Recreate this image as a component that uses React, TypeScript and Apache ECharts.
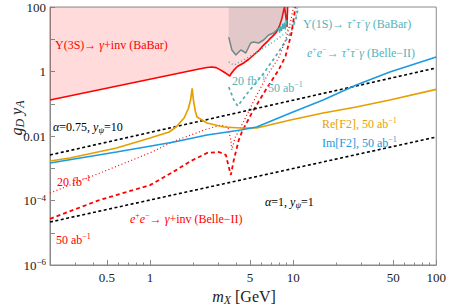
import React, { useEffect, useRef } from 'react';
import * as echarts from 'echarts';

const FF = "Liberation Serif, Times New Roman, serif";

// x: m_X [GeV], y: g_D y_A
const X_MIN = 0.2;
const X_MAX = 100;
const Y_MIN_EXP = -6;
const Y_MAX_EXP = 2;
const X_MAJOR = [0.5, 1, 5, 10, 50, 100];
const X_MINOR = [0.3, 0.4, 0.6, 0.7, 0.8, 0.9, 2, 3, 4, 6, 7, 8, 9, 20, 30, 40, 60, 70, 80, 90];
const Y_TICK_EXP = [-6, -5, -4, -3, -2, -1, 0, 1, 2];
const Y_LABEL_EXP = [-6, -4, -2, 0, 2];

const redBaBar3S = [
  [0.2, 0.131], [2.2, 1.2], [2.5, 1.33], [2.7, 1.38], [2.9, 1.32], [3.1, 1.12], [3.3, 0.95], [3.5, 0.8],
  [3.61, 0.72], [3.68, 0.85], [3.85, 1.1], [4.1, 1.45], [4.52, 1.84], [4.9, 2.4], [5.3, 3.25], [5.8, 4.6],
  [6.22, 6.6], [6.6, 8.4], [6.96, 10.9], [7.3, 13.2], [7.66, 16.8], [8.0, 25], [8.3, 40], [8.57, 75],
  [8.71, 100], [8.95, 40], [9.05, 24], [9.15, 100],
];
const grayBaBar1S = [
  [3.55, 11.7], [3.73, 4.65], [3.98, 3.25], [4.31, 4.65], [4.67, 3.75], [5.05, 7.65], [5.3, 8.22],
  [5.74, 7.65], [6.22, 9.48], [6.74, 13.5], [7.3, 15.6], [7.66, 19.4], [7.9, 22],
];
const tealBaBar1S = [
  [7.9, 22], [8.05, 16], [8.15, 25], [8.3, 18], [8.45, 30], [8.55, 21], [8.7, 33], [8.8, 20],
  [8.95, 30], [9.05, 40],
];
const tealDotted20fb = [
  [3.55, 1.97], [3.85, 1.59], [4.38, 2.12], [5.48, 3.75], [7.08, 7.65], [8.85, 15.6], [10.38, 39.5], [10.7, 100],
];
const tealDashed50ab = [
  [3.55, 0.33], [3.85, 0.131], [4.1, 0.085], [4.74, 0.2], [6.3, 0.95], [7.9, 4.0], [9.6, 15.6], [10.4, 39.5], [10.9, 100],
];
const redDotted20fb = [
  [0.2, 1.7e-4], [1.0, 3.0e-3], [1.47, 6.9e-3], [2.5, 0.0165], [3.13, 0.0219], [3.5, 0.019], [3.67, 0.0075],
  [3.73, 0.0037], [3.92, 0.0087], [4.31, 0.019], [4.67, 0.039], [5.48, 0.162], [6.74, 0.9], [7.91, 2.62],
  [8.85, 9.5], [9.59, 34], [10.05, 100],
];
const redDashed50ab = [
  [0.2, 2.7e-5], [0.445, 1.04e-4], [1.0, 3.0e-4], [1.47, 8.0e-4], [1.94, 1.7e-3], [2.5, 2.97e-3], [3.03, 3.19e-3],
  [3.39, 2.58e-3], [3.55, 1.09e-3], [3.67, 6.2e-4], [3.85, 1.8e-3], [4.17, 7.5e-3], [4.38, 0.0133], [5.14, 0.0516],
  [6.43, 0.267], [7.91, 1.11], [8.85, 3.0], [9.75, 15.6], [10.38, 100],
];
const blackUpper = [[0.2, 0.00258], [100, 1.29]];
const blackLower = [[0.2, 2.15e-5], [100, 0.0093]];
const orangeReF2 = [
  [0.2, 0.00168], [0.275, 0.00208], [0.583, 0.00425], [1.0, 0.00867], [1.36, 0.0133], [1.52, 0.019],
  [1.73, 0.0361], [1.85, 0.07], [1.92, 0.13], [1.97, 0.3], [2.01, 0.13], [2.07, 0.06], [2.13, 0.039],
  [2.5, 0.0253], [3.28, 0.019], [4.31, 0.0177], [5.56, 0.0177], [9.59, 0.0313], [16.2, 0.0516],
  [27.6, 0.0793], [47.4, 0.131], [100, 0.28],
];
const blueImF2 = [
  [0.2, 0.00146], [0.583, 0.00319], [1.47, 0.00652], [2.5, 0.0107], [4.31, 0.0153], [5.56, 0.019],
  [9.59, 0.0516], [16.2, 0.131], [27.6, 0.381], [47.4, 0.965], [100, 2.82],
];

const RED = '#ff0000';
const TEAL = '#55b3b8';
const ORANGE = '#e69f00';
const BLUE = '#1a9be0';
const AXIS = '#8a8a8a';

const lg = (pts: number[][]) => pts.map(([m, g]) => [Math.log10(m), Math.log10(g)]);

const fnt = (size: number, italic = false) => `${italic ? 'italic ' : ''}${size}px ${FF}`;

function richStyles(size: number) {
  const sup = Math.round(size * 0.68);
  const sub = Math.round(size * 0.72);
  const pad = Math.round(size * 0.6);
  return {
    n: { font: fnt(size), fontFamily: FF, fontSize: size, lineHeight: size + 3 },
    i: { font: fnt(size, true), fontFamily: FF, fontSize: size, fontStyle: 'italic', lineHeight: size + 3 },
    s: { font: fnt(sup), fontFamily: FF, fontSize: sup, lineHeight: sup, verticalAlign: 'top' },
    b: { font: fnt(sub), fontFamily: FF, fontSize: sub, lineHeight: sub, verticalAlign: 'bottom', padding: [pad, 0, 0, 0] },
    bi: { font: fnt(sub, true), fontFamily: FF, fontSize: sub, fontStyle: 'italic', lineHeight: sub, verticalAlign: 'bottom', padding: [pad, 0, 0, 0] },
  };
}
const rt = (parts: [string, string][]) => parts.map(([k, t]) => `{${k}|${t}}`).join('');

function label(x: number, y: number, parts: [string, string][], color: string, size = 12, rotation = 0, align = 'left') {
  return {
    type: 'text',
    x,
    y,
    rotation,
    z: 100,
    silent: true,
    style: {
      text: rt(parts),
      rich: richStyles(size),
      fill: color,
      font: fnt(size),
      fontFamily: FF,
      fontSize: size,
      align,
      verticalAlign: 'middle',
      textAlign: align,
      textVerticalAlign: 'middle',
    },
  };
}

export default function App() {
  const ref = useRef<HTMLDivElement>(null);
  useEffect(() => {
    if (!ref.current) return;
    const chart = echarts.init(ref.current, undefined, { renderer: 'svg' });
    const lineSeries = (name: string, pts: number[][], color: string, width: number, type: any, extra: any = {}) => ({
      name,
      type: 'line',
      data: lg(pts),
      showSymbol: false,
      symbol: 'none',
      lineStyle: { color, width, type },
      itemStyle: { color },
      clip: true,
      ...extra,
    });
    const option: any = {
      animation: false,
      grid: { left: 50, top: 7, width: 388, height: 258, show: true, borderColor: AXIS, borderWidth: 1, backgroundColor: 'transparent' },
      xAxis: [
        {
          type: 'value', min: Math.log10(X_MIN), max: Math.log10(X_MAX), position: 'bottom',
          axisLine: { show: true, onZero: false, lineStyle: { color: AXIS } },
          axisTick: { show: true, inside: true, length: 5, customValues: X_MAJOR.map(Math.log10), lineStyle: { color: AXIS } },
          axisLabel: {
            show: true, customValues: X_MAJOR.map(Math.log10), margin: 6, color: '#222', fontFamily: FF, fontSize: 13,
            formatter: (v: number) => String(Number(Math.pow(10, v).toPrecision(3))),
          },
          splitLine: { show: false },
        },
        {
          type: 'value', min: Math.log10(X_MIN), max: Math.log10(X_MAX), position: 'bottom', gridIndex: 0,
          axisLine: { show: false, onZero: false },
          axisTick: { show: true, inside: true, length: 2.5, customValues: X_MINOR.map(Math.log10), lineStyle: { color: AXIS } },
          axisLabel: { show: false },
          splitLine: { show: false },
        },
      ],
      yAxis: {
        type: 'value', min: Y_MIN_EXP, max: Y_MAX_EXP,
        axisLine: { show: true, onZero: false, lineStyle: { color: AXIS } },
        axisTick: { show: true, inside: true, length: 5, customValues: Y_TICK_EXP, lineStyle: { color: AXIS } },
        axisLabel: {
          show: true, customValues: Y_LABEL_EXP, margin: 4, color: '#222', fontFamily: FF, fontSize: 13,
          formatter: (v: number) => {
            if (v >= 0) return `{n|${Math.pow(10, v)}}`;
            if (v === -2) return '{n|0.01}';
            return `{n|10}{s|−${-v}}`;
          },
          rich: {
            n: { fontFamily: FF, fontSize: 13, color: '#222', lineHeight: 15 },
            s: { fontFamily: FF, fontSize: 9, color: '#222', lineHeight: 9, verticalAlign: 'top' },
          },
        },
        splitLine: { show: false },
      },
      series: [
        lineSeries('Υ(3S) BaBar', redBaBar3S, RED, 1.6, 'solid', { areaStyle: { origin: 'end', color: 'rgba(255,0,0,0.2)' }, z: 2 }),
        lineSeries('Υ(1S) BaBar gray', grayBaBar1S, '#6e8a8c', 1.5, 'solid', { areaStyle: { origin: 'end', color: 'rgba(110,120,125,0.28)' }, z: 3 }),
        lineSeries('Υ(1S) BaBar teal', tealBaBar1S, '#3fb0b5', 1.3, 'solid', { areaStyle: { origin: 'end', color: 'rgba(110,120,125,0.28)' }, z: 3 }),
        lineSeries('ττγ 20fb', tealDotted20fb, '#4fb0b5', 1.5, [1, 2.5], { z: 4 }),
        lineSeries('ττγ 50ab', tealDashed50ab, '#4fb0b5', 1.7, [3, 3], { z: 4 }),
        lineSeries('γ+inv 20fb', redDotted20fb, RED, 1.2, [1, 2.5], { z: 4 }),
        lineSeries('γ+inv 50ab', redDashed50ab, RED, 1.8, [4, 3], { z: 4 }),
        lineSeries('α=0.75', blackUpper, '#000', 1.6, [3, 2.5], { z: 5 }),
        lineSeries('α=1', blackLower, '#000', 1.6, [3, 2.5], { z: 5 }),
        lineSeries('Re[F2]', orangeReF2, ORANGE, 1.7, 'solid', { z: 6 }),
        lineSeries('Im[F2]', blueImF2, BLUE, 1.5, 'solid', { z: 6 }),
      ],
      graphic: [
        label(55, 45, [['n', 'Υ(3S)→ '], ['i', 'γ'], ['n', '+inv (BaBar)']], RED),
        label(303, 24, [['n', 'Υ(1S)→ '], ['i', 'τ'], ['s', '+'], ['i', 'τ'], ['s', '−'], ['i', 'γ'], ['n', ' (BaBar)']], TEAL),
        label(307, 53, [['i', 'e'], ['s', '+'], ['i', 'e'], ['s', '−'], ['n', '→ '], ['i', 'τ'], ['s', '+'], ['i', 'τ'], ['s', '−'], ['i', 'γ'], ['n', ' (Belle−II)']], TEAL),
        label(232, 81, [['n', '20 fb'], ['s', '−1']], TEAL),
        label(268, 88, [['n', '50 ab'], ['s', '−1']], TEAL),
        label(53, 127, [['i', 'α'], ['n', '=0.75, '], ['i', 'y'], ['bi', 'ψ'], ['n', '=10']], '#000'),
        label(322, 124, [['n', 'Re[F2], 50 ab'], ['s', '−1']], ORANGE),
        label(322, 143, [['n', 'Im[F2], 50 ab'], ['s', '−1']], BLUE),
        label(57, 182, [['n', '20 fb'], ['s', '−1']], RED),
        label(130, 219, [['i', 'e'], ['s', '+'], ['i', 'e'], ['s', '−'], ['n', '→ '], ['i', 'γ'], ['n', '+inv (Belle−II)']], RED),
        label(265, 202, [['i', 'α'], ['n', '=1, '], ['i', 'y'], ['bi', 'ψ'], ['n', '=1']], '#000'),
        label(56, 240, [['n', '50 ab'], ['s', '−1']], RED),
        label(244, 296, [['i', 'm'], ['bi', 'X'], ['n', ' [GeV]']], '#222', 16, 0, 'center'),
        label(16, 118, [['i', 'g'], ['bi', 'D'], ['n', ' '], ['i', 'y'], ['bi', 'A']], '#222', 16, Math.PI / 2, 'center'),
      ],
    };
    chart.setOption(option);
    return () => chart.dispose();
  }, []);
  return <div ref={ref} style={{ position: 'absolute', left: 0, top: 0, width: 449, height: 307 }} />;
}
